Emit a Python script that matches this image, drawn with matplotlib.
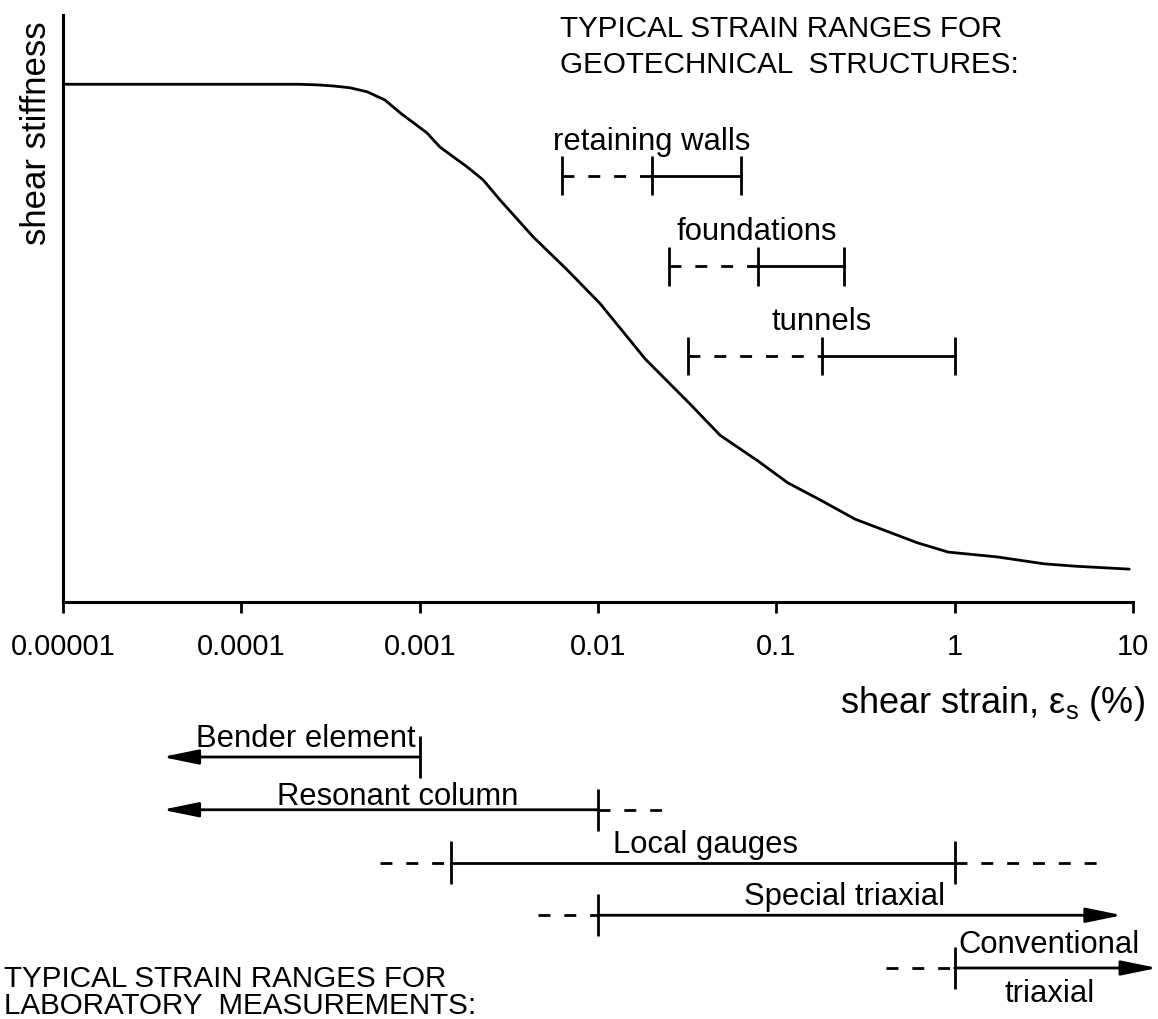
import numpy as np
import matplotlib
matplotlib.use('Agg')
import matplotlib.pyplot as plt
from matplotlib.patches import FancyArrowPatch
from matplotlib.ticker import NullLocator, FixedLocator, FixedFormatter

plt.rcParams['font.family'] = ['Liberation Sans', 'DejaVu Sans']
plt.rcParams['mathtext.fontset'] = 'custom'
plt.rcParams['mathtext.rm'] = 'Liberation Sans'
plt.rcParams['mathtext.it'] = 'Liberation Sans:italic'

# ---------------- data ----------------
strain_pct = [1e-5, 2.1e-4, 2.66e-4, 3.3e-4, 4.07e-4, 5.1e-4, 6.4e-4, 7.8e-4,
              1.1e-3, 1.3e-3, 1.85e-3, 2.27e-3, 2.82e-3, 4.33e-3, 6.71e-3,
              1.03e-2, 1.84e-2, 3.29e-2, 4.84e-2, 7.91e-2, 0.116, 0.176, 0.277,
              0.616, 0.92, 1.71, 3.18, 4.74, 9.53]
stiffness = [0.882, 0.882, 0.881, 0.879, 0.876, 0.869, 0.855, 0.833, 0.799,
             0.775, 0.741, 0.719, 0.685, 0.622, 0.566, 0.508, 0.414, 0.337,
             0.284, 0.240, 0.203, 0.174, 0.141, 0.101, 0.085, 0.077, 0.065,
             0.061, 0.056]

xtick_vals = [1e-5, 1e-4, 1e-3, 1e-2, 1e-1, 1, 10]
xtick_labels = ['0.00001', '0.0001', '0.001', '0.01', '0.1', '1', '10']

struct_names = ['retaining walls', 'foundations', 'tunnels']
struct_lo = [0.0063, 0.025, 0.032]     # start of dashed part
struct_mid = [0.020, 0.079, 0.18]      # start of solid part
struct_hi = [0.063, 0.24, 1.0]         # end of range
struct_level = [0.726, 0.572, 0.419]   # stiffness level at which bracket is drawn

lab_names = ['Bender element', 'Resonant column', 'Local gauges',
             'Special triaxial', 'Conventional\ntriaxial']
lab_dash_lo = [None, None, 6.0e-4, 4.6e-3, 0.41]
lab_lo = [3.6e-5, 3.6e-5, 1.5e-3, 0.01, 1.0]
lab_hi = [1e-3, 1e-2, 1.0, 8.7, 13.7]
lab_dash_hi = [None, 0.026, 7.3, None, None]
lab_arrow_left = [True, True, False, False, False]
lab_arrow_right = [False, False, False, True, True]
lab_label_x = [2.3e-4, 7.5e-4, 0.040, 0.24, 3.4]

# ---------------- layout ----------------
W, H = 1158, 1019
fig = plt.figure(figsize=(W / 100, H / 100), dpi=100)
PX2PT = 72 / 100.0
LW = 2.0
DASH = (0, (4.3, 5.0))
FS = 22.3
FS_TICK = 21
FS_TITLE = 21.3
FS_AXLAB = 26

ax = fig.add_axes([63 / W, 1 - 602 / H, 1070 / W, 587 / H])
ax.set_xscale('log')
ax.set_xlim(1e-5, 10)
ax.set_ylim(0, 1)
for s in ['top', 'right']:
    ax.spines[s].set_visible(False)
for s in ['left', 'bottom']:
    ax.spines[s].set_linewidth(2.2)
ax.xaxis.set_major_locator(FixedLocator(xtick_vals))
ax.xaxis.set_major_formatter(FixedFormatter(xtick_labels))
ax.xaxis.set_minor_locator(NullLocator())
ax.set_yticks([])
ax.tick_params(axis='x', direction='out', length=8, width=2, labelsize=FS_TICK, pad=14)
ax.patch.set_alpha(0)

ax.plot(strain_pct, stiffness, color='black', lw=LW, solid_capstyle='round',
        solid_joinstyle='round')

for name, lo, mid, hi, lvl in zip(struct_names, struct_lo, struct_mid, struct_hi, struct_level):
    ax.plot([lo, mid], [lvl, lvl], color='black', lw=LW, ls=DASH)
    ax.plot([mid, hi], [lvl, lvl], color='black', lw=LW)
    ax.vlines([lo, mid, hi], lvl - 0.033, lvl + 0.033, color='black', lw=LW)
    xc = np.sqrt(lo * hi)
    ax.annotate(name, (xc, lvl), xytext=(0, 34 * PX2PT), textcoords='offset points',
                ha='center', va='center', fontsize=FS)

# lower panel with laboratory ranges
row_px0, row_dpx = 757, 52.75
r_top = (700 - row_px0) / row_dpx
r_bot = (H - row_px0) / row_dpx
ax2 = fig.add_axes([63 / W, 0, 1070 / W, (H - 700) / H])
ax2.set_xscale('log')
ax2.set_xlim(1e-5, 10)
ax2.set_ylim(r_bot, r_top)
ax2.axis('off')

label_dy_px = [10, 5, 9, 10, 15]
tick_half = 0.4
for i, name in enumerate(lab_names):
    lo, hi = lab_lo[i], lab_hi[i]
    if lab_dash_lo[i] is not None:
        ax2.plot([lab_dash_lo[i], lo], [i, i], color='black', lw=LW, ls=DASH, clip_on=False)
    if lab_dash_hi[i] is not None:
        ax2.plot([hi, lab_dash_hi[i]], [i, i], color='black', lw=LW, ls=DASH, clip_on=False)
    if lab_arrow_left[i] or lab_arrow_right[i]:
        a, b = ((hi, i), (lo, i)) if lab_arrow_left[i] else ((lo, i), (hi, i))
        arr = FancyArrowPatch(a, b, arrowstyle='-|>,head_length=2.2,head_width=0.45',
                              mutation_scale=10, lw=LW, color='black',
                              shrinkA=0, shrinkB=0, clip_on=False)
        ax2.add_patch(arr)
    else:
        ax2.plot([lo, hi], [i, i], color='black', lw=LW, clip_on=False)
    ticks = []
    if not lab_arrow_left[i]:
        ticks.append(lo)
    if not lab_arrow_right[i]:
        ticks.append(hi)
    ax2.vlines(ticks, i - tick_half, i + tick_half, color='black', lw=LW, clip_on=False)
    parts = name.split('\n')
    ax2.annotate(parts[0], (lab_label_x[i], i), xytext=(0, label_dy_px[i] * PX2PT),
                 textcoords='offset points', ha='center', va='baseline',
                 fontsize=FS, annotation_clip=False)
    if len(parts) > 1:
        ax2.annotate(parts[1], (lab_label_x[i], i), xytext=(0, -34 * PX2PT),
                     textcoords='offset points', ha='center', va='baseline',
                     fontsize=FS, annotation_clip=False)

# texts
fig.text(1145 / W, 1 - 713 / H, r'shear strain, ε$_{\mathregular{s}}$ (%)',
         ha='right', va='baseline', fontsize=FS_AXLAB)
fig.text(37 / W, 1 - 133 / H, 'shear stiffness', rotation=90,
         ha='center', va='center', fontsize=25)
fig.text(560 / W, 1 - 37 / H, 'TYPICAL STRAIN RANGES FOR', ha='left', va='baseline', fontsize=FS_TITLE)
fig.text(560 / W, 1 - 73 / H, 'GEOTECHNICAL  STRUCTURES:', ha='left', va='baseline', fontsize=FS_TITLE)
fig.text(4 / W, 1 - 987 / H, 'TYPICAL STRAIN RANGES FOR', ha='left', va='baseline', fontsize=FS_TITLE)
fig.text(4 / W, 1 - 1014 / H, 'LABORATORY  MEASUREMENTS:', ha='left', va='baseline', fontsize=FS_TITLE)

fig.savefig('out.png', dpi=100, facecolor='white')
